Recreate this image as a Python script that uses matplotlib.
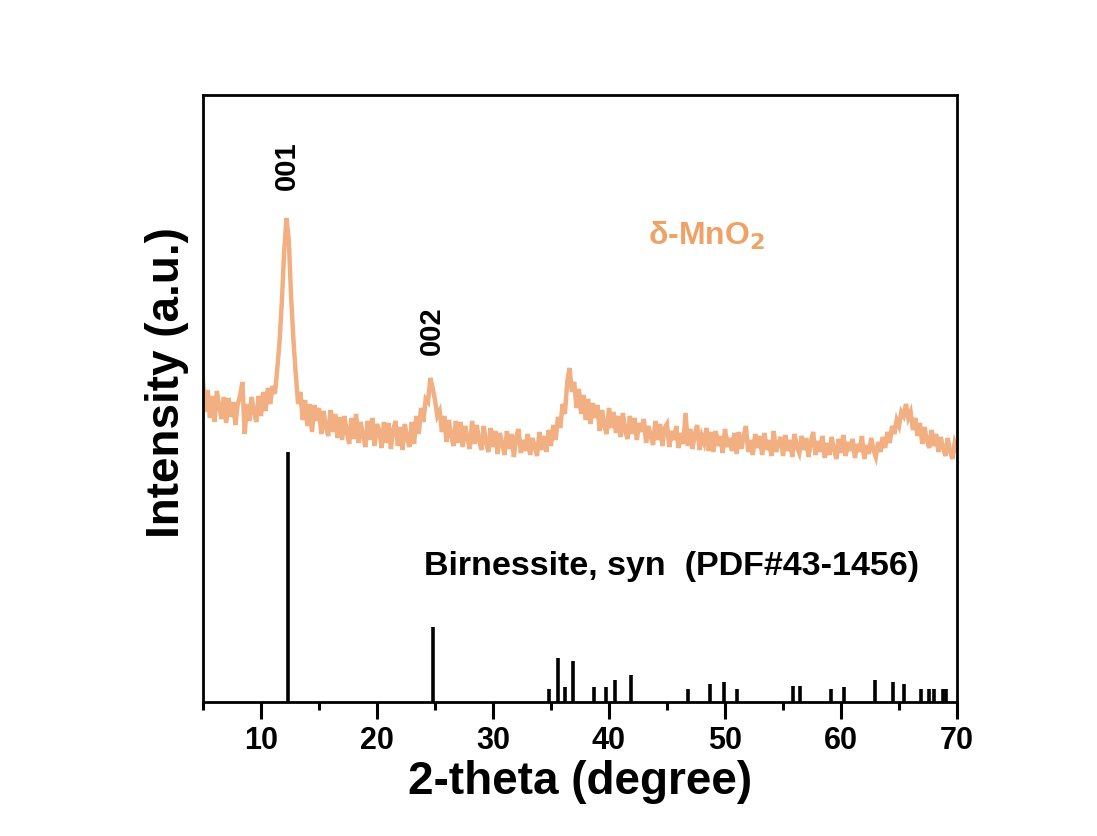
import numpy as np
import matplotlib
matplotlib.use("Agg")
import matplotlib.pyplot as plt
from matplotlib.ticker import MultipleLocator

plt.rcParams['font.family'] = ['Liberation Sans', 'DejaVu Sans']
plt.rcParams['font.weight'] = 'bold'

# ---- XRD scan (2-theta grid 5..70, step 0.2) ----
theta_start, theta_stop, theta_step = 5.0, 70.0, 0.2
two_theta = np.round(np.arange(theta_start, theta_stop + 1e-6, theta_step), 1)

intensity = [
    322, 290, 312, 284, 306, 280, 311, 296, 283, 305,
    279, 304, 285, 300, 277, 298, 306, 320, 268, 298,
    281, 305, 290, 280, 306, 286, 310, 291, 314, 298,
    316, 308, 332, 360, 400, 450, 484, 462, 405, 362,
    328, 298, 310, 282, 302, 276, 298, 270, 297, 281,
    294, 268, 291, 275, 266, 292, 270, 288, 264, 285,
    262, 286, 270, 258, 284, 263, 288, 259, 280, 266,
    255, 281, 262, 284, 256, 278, 271, 254, 280, 259,
    279, 253, 272, 281, 256, 275, 252, 278, 264, 255,
    280, 258, 286, 268, 294, 280, 303, 300, 324, 314,
    302, 286, 291, 270, 286, 260, 282, 266, 256, 281,
    259, 280, 255, 276, 264, 253, 281, 258, 277, 262,
    252, 276, 260, 250, 274, 255, 271, 248, 269, 258,
    247, 271, 253, 268, 245, 265, 273, 249, 262, 251,
    268, 247, 264, 255, 246, 270, 252, 266, 250, 272,
    256, 277, 262, 285, 274, 298, 288, 320, 334, 310,
    320, 294, 313, 288, 307, 282, 303, 278, 299, 284,
    297, 271, 292, 276, 268, 294, 274, 290, 269, 286,
    265, 289, 271, 263, 286, 268, 284, 262, 279, 270,
    283, 259, 276, 266, 257, 281, 262, 278, 256, 274,
    278, 255, 271, 262, 276, 254, 269, 258, 289, 256,
    273, 253, 268, 277, 252, 266, 259, 274, 251, 270,
    250, 271, 256, 266, 249, 273, 255, 264, 251, 269,
    248, 270, 253, 265, 276, 250, 262, 247, 268, 254,
    266, 247, 269, 252, 262, 246, 271, 250, 258, 265,
    246, 267, 251, 262, 245, 268, 255, 249, 266, 252,
    264, 245, 260, 270, 247, 261, 250, 266, 244, 259,
    247, 265, 252, 243, 263, 249, 267, 246, 260, 251,
    263, 244, 258, 250, 266, 243, 257, 248, 264, 252,
    245, 260, 250, 265, 254, 270, 259, 276, 268, 282,
    276, 290, 286, 298, 284, 290, 272, 284, 266, 279,
    258, 275, 262, 254, 272, 256, 268, 250, 265, 254,
    246, 264, 251, 243, 259, 252,
]

# ---- Reference pattern: Birnessite, syn (PDF#43-1456) ----
pdf_pos = [12.35, 24.85, 34.85, 35.58, 36.18, 36.93, 38.71, 39.74, 40.52, 41.87,
           46.84, 48.68, 49.94, 51.06, 55.84, 56.47, 59.14, 60.29, 62.96, 64.46,
           65.46, 66.90, 67.61, 68.05, 68.76, 69.05]
pdf_int = [100, 30, 5.1, 17.5, 6.1, 16.4, 6.0, 6.0, 8.8, 10.8,
           5.1, 7.3, 8.1, 5.1, 6.3, 6.3, 5.1, 6.1, 8.8, 8.1,
           7.3, 5.1, 5.1, 5.1, 5.1, 5.1]

peak_labels = ["001", "002"]
peak_label_x = [12.2, 24.75]

xticks = [10, 20, 30, 40, 50, 60, 70]

fig = plt.figure(figsize=(10.97, 8.36), dpi=100)
ax = fig.add_axes([0.185, 0.1603, 0.6874, 0.7261])

line_color = '#F1AF82'
ax.plot(two_theta, intensity, color=line_color, lw=3.2, solid_joinstyle='miter')

stick_scale = 2.5
ax.vlines(pdf_pos, 0, np.array(pdf_int) * stick_scale, color='black', lw=2.6)

ax.set_xlim(5, 70)
ax.set_ylim(0, 607)
ax.set_yticks([])
ax.xaxis.set_major_locator(MultipleLocator(10))
ax.xaxis.set_minor_locator(MultipleLocator(5))
ax.set_xticks(xticks)
ax.tick_params(axis='x', which='major', direction='out', length=12, width=2.2,
               labelsize=22, pad=5)
ax.tick_params(axis='x', which='minor', direction='out', length=6, width=2.2)
for lab in ax.get_xticklabels():
    lab.set_fontweight('bold')
for sp in ax.spines.values():
    sp.set_linewidth(2.0)

ax.set_xlabel("2-theta (degree)", fontsize=33, fontweight='bold', labelpad=3)
ax.set_ylabel("Intensity (a.u.)", fontsize=33, fontweight='bold')
ax.yaxis.set_label_coords(-0.018, 0.527)

ax.text(peak_label_x[0], 512, peak_labels[0], rotation=90, ha='center', va='bottom',
        fontsize=21, fontweight='bold')
ax.text(peak_label_x[1], 347, peak_labels[1], rotation=90, ha='center', va='bottom',
        fontsize=21, fontweight='bold')
ax.text(48.4, 466, r"δ-MnO$_\mathbf{2}$", ha='center', va='center', fontsize=23,
        fontweight='bold', color='#EFA266')
ax.text(45.4, 135, "Birnessite, syn  (PDF#43-1456)", ha='center', va='center',
        fontsize=24.5, fontweight='bold')

fig.savefig("out.png", dpi=100)
